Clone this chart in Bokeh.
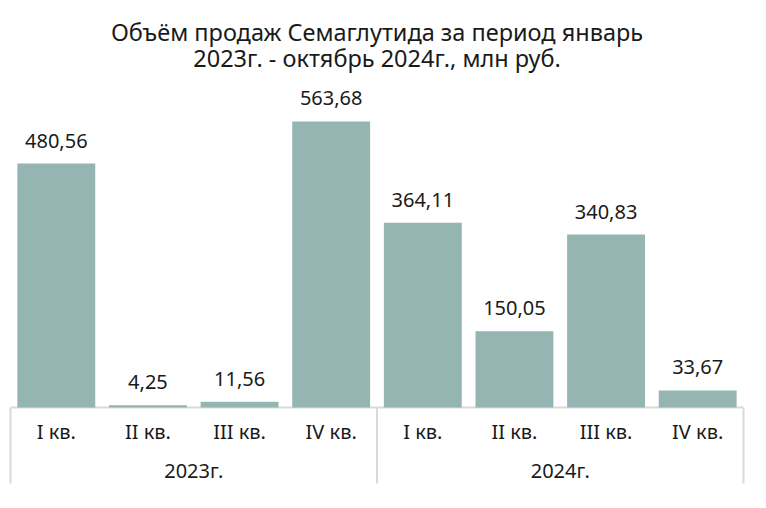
from bokeh.plotting import figure
from bokeh.models import FactorRange, Range1d, ColumnDataSource
from bokeh.core.properties import value
from bokeh.embed import file_html
from bokeh.resources import INLINE

# ---- data ----
years = ["2023г.", "2024г."]
quarters = ["I кв.", "II кв.", "III кв.", "IV кв."]
sales_2023 = [480.56, 4.25, 11.56, 563.68]
sales_2024 = [364.11, 150.05, 340.83, 33.67]
title_lines = ["Объём продаж Семаглутида за период январь",
               "2023г. - октябрь 2024г., млн руб."]

# ---- build table ----
factors = [(y, q) for y in years for q in quarters]
vals = sales_2023 + sales_2024
labels = [f"{v:.2f}".replace(".", ",") for v in vals]
src = ColumnDataSource(dict(x=factors, top=vals, label=labels,
                            q=[f[1] for f in factors]))

FONT = "Noto Sans"
TXT = "#1a1a1a"
BAR = "#95b5b2"
GRID = "#d9d9d9"

ppu = 0.5075          # pixels per y unit
below_px = 91
above_px = 407
pad = 2 / 91.625

x_range = FactorRange(factors=factors, factor_padding=0, group_padding=0,
                      subgroup_padding=0, range_padding=pad,
                      range_padding_units="absolute")
p = figure(x_range=x_range,
           y_range=Range1d(-below_px / ppu, above_px / ppu),
           frame_width=737, frame_height=below_px + above_px,
           min_border_left=8, min_border_right=13, min_border_top=0,
           min_border_bottom=0,
           output_backend="svg", toolbar_location=None, tools="")
p.xaxis.visible = False
p.yaxis.visible = False
p.xgrid.visible = False
p.ygrid.visible = False
p.outline_line_color = None
p.background_fill_color = "white"
p.border_fill_color = "white"

n = len(factors)
ngroups = len(years)

# chart title (two centred lines)
p.text(x=[n / 2] * 2, y=[above_px / ppu] * 2, text=title_lines,
       y_offset=[31, 57], text_align="center", text_baseline="alphabetic",
       text_font=value(FONT), text_font_size="23.5px", text_color=TXT)

edge_bottom = -76 / ppu
# axis line
p.segment(x0=[0], y0=[0], x1=[n], y1=[0], line_color=GRID, line_width=2)
# vertical separators (group boundaries)
bx = [i * (n // ngroups) for i in range(ngroups + 1)]
p.segment(x0=bx, y0=[0] * len(bx), x1=bx, y1=[edge_bottom] * len(bx),
          line_color=GRID, line_width=2)

p.vbar(x="x", top="top", bottom=0, width=0.85, source=src,
       fill_color=BAR, line_color=None)

p.text(x="x", y="top", text="label", source=src, y_offset=-23,
       text_align="center", text_baseline="alphabetic",
       text_font=value(FONT), text_font_size="20px", text_color=TXT)

p.text(x="x", y=0, text="q", source=src, y_offset=24,
       text_align="center", text_baseline="alphabetic",
       text_font=value(FONT), text_font_size="20px", text_color=TXT)

gx = [(i + 0.5) * (n // ngroups) for i in range(ngroups)]
p.text(x=gx, y=[0] * ngroups, text=years, y_offset=63,
       text_align="center", text_baseline="alphabetic",
       text_font=value(FONT), text_font_size="20px", text_color=TXT)

open("out.html", "w").write(file_html(p, INLINE))
